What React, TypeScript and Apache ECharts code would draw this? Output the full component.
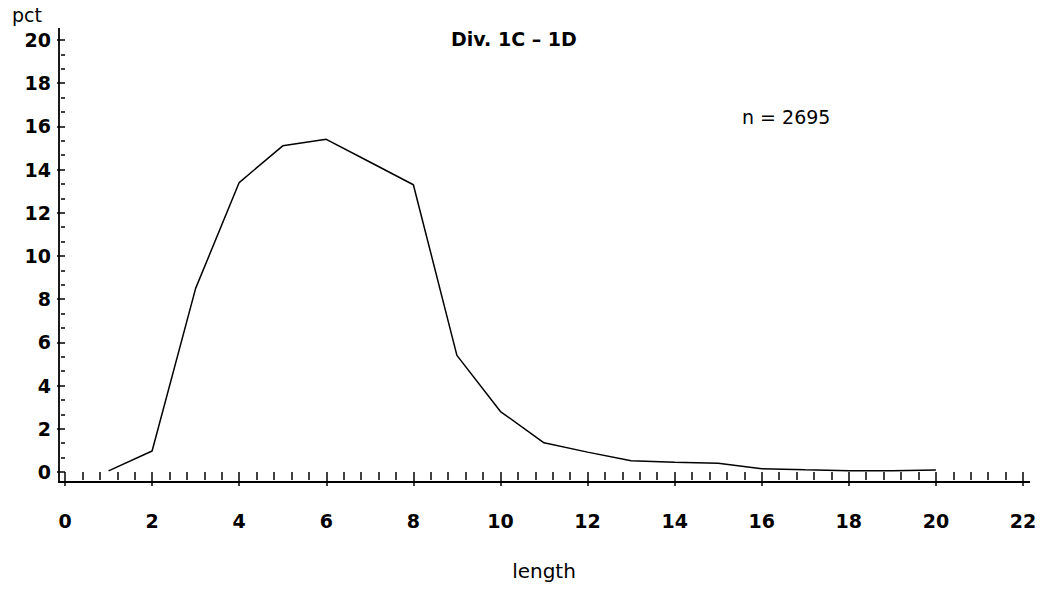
import React, { useEffect, useRef } from "react";
import * as echarts from "echarts";

// ---- data ----
const lengths = [1, 2, 3, 4, 5, 6, 7, 8, 9, 10, 11, 12, 13, 14, 15, 16, 17, 18, 19, 20];
const pct = [0.05, 0.97, 8.5, 13.4, 15.1, 15.4, 14.35, 13.3, 5.4, 2.8, 1.35, 0.92, 0.52, 0.45, 0.4, 0.15, 0.1, 0.06, 0.06, 0.09];
const xRange = [0, 22];
const yRange = [0, 20];
const tickStep = 2;
const titleText = "Div. 1C – 1D";
const noteText = "n = 2695";
const yName = "pct";
const xName = "length";

// ---- layout ----
const W = 1041;
const H = 594;
const GRID = { left: 65, right: 18, top: 40, bottom: 122 };
const X_OFFSET = 10;
const Y_OFFSET = 6;
const FONT = "DejaVu Sans";

export default function App() {
  const ref = useRef<HTMLDivElement>(null);

  useEffect(() => {
    document.body.style.margin = "0";
    if (!ref.current) return;
    const chart = echarts.init(ref.current, null, { renderer: "svg" });

    const xAxisY = H - GRID.bottom + X_OFFSET;
    const yAxisX = GRID.left - Y_OFFSET;

    const tickStyle = { color: "#000", width: 1.5 };
    const labelStyle = { color: "#000", fontSize: 19, fontWeight: "bold" as const, fontFamily: FONT };

    chart.setOption({
      animation: false,
      backgroundColor: "#fff",
      grid: { left: GRID.left, right: GRID.right, top: GRID.top, bottom: GRID.bottom, containLabel: false },
      xAxis: {
        type: "value",
        min: xRange[0],
        max: xRange[1],
        interval: tickStep,
        offset: X_OFFSET,
        axisLine: { show: false },
        axisTick: { show: true, length: 14, lineStyle: tickStyle },
        minorTick: { show: true, splitNumber: 5, length: 8, lineStyle: tickStyle },
        splitLine: { show: false },
        minorSplitLine: { show: false },
        axisLabel: { ...labelStyle, margin: 29 },
        name: xName,
        nameLocation: "middle",
        nameGap: 79,
        nameTextStyle: { color: "#000", fontSize: 20, fontFamily: FONT },
      },
      yAxis: {
        type: "value",
        min: yRange[0],
        max: yRange[1],
        interval: tickStep,
        offset: Y_OFFSET,
        axisLine: { show: false },
        axisTick: { show: true, length: 8, lineStyle: tickStyle },
        minorTick: { show: true, splitNumber: 3, length: 4, lineStyle: tickStyle },
        splitLine: { show: false },
        minorSplitLine: { show: false },
        axisLabel: { ...labelStyle, margin: 8 },
      },
      series: [
        {
          type: "line",
          data: lengths.map((x, i) => [x, pct[i]]),
          symbol: "none",
          showSymbol: false,
          lineStyle: { color: "#000", width: 1.5 },
        },
      ],
      graphic: [
        {
          type: "line",
          shape: { x1: yAxisX, y1: 28, x2: yAxisX, y2: xAxisY + 0.75 },
          style: { stroke: "#000", lineWidth: 1.8 },
        },
        {
          type: "line",
          shape: { x1: yAxisX - 0.75, y1: xAxisY, x2: 1030, y2: xAxisY },
          style: { stroke: "#000", lineWidth: 1.8 },
        },
        {
          type: "text",
          left: 451,
          top: 29,
          style: { text: titleText, fill: "#000", font: `bold 19px "${FONT}"` },
        },
        {
          type: "text",
          left: 742,
          top: 107,
          style: { text: noteText, fill: "#000", font: `19px "${FONT}"` },
        },
        {
          type: "text",
          left: 12,
          top: 5,
          style: { text: yName, fill: "#000", font: `19px "${FONT}"` },
        },
      ],
    });

    return () => chart.dispose();
  }, []);

  return <div ref={ref} style={{ width: W, height: H }} />;
}
